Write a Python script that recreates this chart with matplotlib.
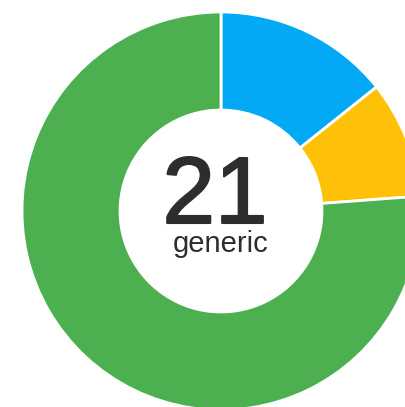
import matplotlib.pyplot as plt
import matplotlib.patheffects as pe

# data
labels = ["blue", "yellow", "green"]
values = [3, 2, 16]
colors = ["#03A9F4", "#FFC107", "#4CAF50"]
total_label = str(sum(values))
caption = "generic"

plt.rcParams['font.family'] = ['Liberation Sans', 'DejaVu Sans']

fig = plt.figure(figsize=(4.06, 4.07), dpi=100)
ax = fig.add_axes([0, 0, 1, 1])

# donut, clockwise from the top
ax.pie(values, colors=colors, startangle=90, counterclock=False, radius=1,
       wedgeprops=dict(width=0.4925, edgecolor="white", linewidth=2))

# centre text (a thin stroke makes the big number a bit heavier)
ax.text(-6 / 199, (211 - 223) / 199, total_label, ha="center", va="baseline",
        fontsize=68, color="#2d2d2d",
        path_effects=[pe.withStroke(linewidth=1.5, foreground="#2d2d2d")])
ax.text(0, (211 - 252) / 199, caption, ha="center", va="baseline",
        fontsize=21, color="#2d2d2d")

# place centre at (221, 211) px, radius 199 px
ax.set_aspect("auto")
ax.set_xlim(-221 / 199, (406 - 221) / 199)
ax.set_ylim(-(407 - 211) / 199, 211 / 199)
ax.axis("off")

fig.savefig("out.png", dpi=100)
